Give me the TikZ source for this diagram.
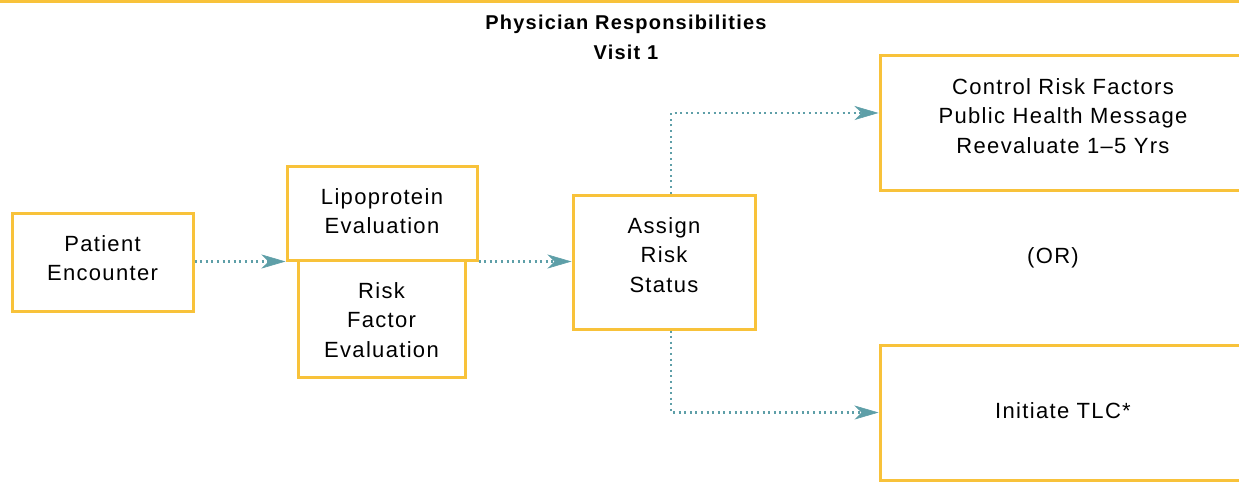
\documentclass[tikz,border=0pt]{standalone}
\usepackage{fontspec}
\setmainfont{Liberation Sans}[LetterSpace=6]
\usetikzlibrary{arrows.meta,calc}
\definecolor{boxyellow}{HTML}{F8C23A}
\definecolor{flowteal}{HTML}{5E9FA8}
\tikzset{
  stepbox/.style={draw=boxyellow, line width=3pt, fill=white, inner sep=0pt},
  boxtext/.style={inner sep=0pt, align=center, font=\fontsize{22}{29.5}\selectfont},
  flow/.style={draw=flowteal, line width=2.2pt, dash pattern=on 2pt off 3.6pt,
    -{Stealth[length=24pt,width=14pt,inset=7pt,line width=0.6pt,fill=flowteal]}},
  titletext/.style={font=\bfseries\fontsize{20}{30}\selectfont, align=center, inner sep=0pt}
}
\begin{document}
\begin{tikzpicture}[x=1pt,y=-1pt]
\useasboundingbox (0,0) rectangle (1239,482);
\draw[boxyellow, line width=3pt] (0,1.5) -- (1239,1.5);
\node[titletext] (title) at (626,37) {Physician Responsibilities\\Visit 1};

\node[stepbox, minimum width=181pt, minimum height=98pt] (pe) at (102.5,262) {};
\node[boxtext] (peT) at (102.5,258) {Patient\\Encounter};
\node[stepbox, minimum width=167pt, minimum height=117pt] (rf) at (381.5,318.5) {};
\node[boxtext] (rfT) at (381.5,320) {Risk\\Factor\\Evaluation};
\node[stepbox, minimum width=190pt, minimum height=94pt] (lp) at (382,213) {};
\node[boxtext] (lpT) at (382,211) {Lipoprotein\\Evaluation};
\node[stepbox, minimum width=182pt, minimum height=134pt] (as) at (664,262) {};
\node[boxtext] (asT) at (664,255) {Assign\\Risk\\Status};
\node[stepbox, minimum width=366pt, minimum height=135pt] (tr) at (1063,122.5) {};
\node[boxtext] (trT) at (1063,116) {Control Risk Factors\\Public Health Message\\Reevaluate 1--5 Yrs};
\node[stepbox, minimum width=366pt, minimum height=135pt] (br) at (1063,412.5) {};
\node[boxtext] (brT) at (1063,411) {Initiate TLC*};
\node[boxtext] (or) at (1053,258) {(OR)};

\coordinate (asTop) at ($(as.north)+(7,0)$);
\coordinate (asBot) at ($(as.south)+(7,0)$);
\coordinate (trIn) at ($(tr.west)+(0,-9.5)$);

\draw[flow] (pe.east |- lp.south) -- (lp.south west);
\draw[flow] (lp.south east) -- (as.west |- lp.south);
\draw[flow] (asTop) |- (trIn);
\draw[flow] (asBot) |- (br.west);
\end{tikzpicture}
\end{document}
